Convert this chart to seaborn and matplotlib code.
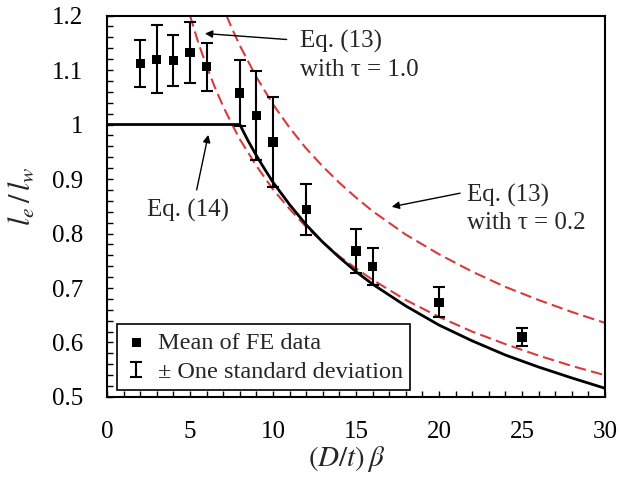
import matplotlib
matplotlib.use("Agg")
import matplotlib.pyplot as plt
import seaborn as sns
from matplotlib.ticker import MultipleLocator, FixedLocator, FixedFormatter
from matplotlib.container import ErrorbarContainer
from matplotlib.legend_handler import HandlerErrorbar

# FE results: mean and one standard deviation of l_e / l_w
fe_x = [2, 3, 4, 5, 6, 8, 9, 10, 12, 15, 16, 20, 25]
fe_mean = [1.112, 1.120, 1.118, 1.132, 1.106, 1.058, 1.017, 0.968,
           0.844, 0.768, 0.739, 0.674, 0.610]
fe_sd = [0.043, 0.062, 0.047, 0.056, 0.044, 0.061, 0.082, 0.083,
         0.047, 0.040, 0.034, 0.028, 0.017]

# Eq. (14)
eq14_x = [0, 8, 8.5, 9, 9.5, 10, 11, 12, 13, 14, 15, 16, 18, 20, 22, 24, 26, 28, 30]
eq14_y = [1.0, 1.0, 0.970, 0.943, 0.918, 0.894, 0.853, 0.816, 0.784, 0.756,
          0.730, 0.707, 0.667, 0.632, 0.603, 0.577, 0.555, 0.535, 0.516]

# Eq. (13), tau = 1.0
eq13_t10_x = [5, 5.5, 6, 6.5, 7, 7.5, 8, 9, 10, 11, 12, 13, 14, 15, 16,
              18, 20, 22, 24, 26, 28, 30]
eq13_t10_y = [1.200, 1.150, 1.107, 1.068, 1.033, 1.002, 0.973, 0.924, 0.881,
              0.845, 0.812, 0.784, 0.758, 0.736, 0.715, 0.678, 0.647, 0.620,
              0.597, 0.576, 0.557, 0.540]

# Eq. (13), tau = 0.2
eq13_t02_x = [7.2, 7.5, 8, 9, 10, 11, 12, 13, 14, 15, 16, 18, 20, 22, 24, 26, 28, 30]
eq13_t02_y = [1.200, 1.178, 1.145, 1.087, 1.037, 0.994, 0.956, 0.923, 0.893,
              0.866, 0.841, 0.798, 0.762, 0.730, 0.702, 0.678, 0.656, 0.636]

yticks = [0.5, 0.6, 0.7, 0.8, 0.9, 1.0, 1.1, 1.2]
ytick_labels = ["0.5", "0.6", "0.7", "0.8", "0.9", "1", "1.1", "1.2"]

sns.set_style("white")
plt.rcParams["font.family"] = ["Liberation Serif", "DejaVu Serif"]
plt.rcParams["mathtext.fontset"] = "stix"

FS = 18
RED = "#d93a3a"

fig = plt.figure(figsize=(6.2, 4.79), dpi=100)
ax = fig.add_axes([0.1726, 0.1712, 0.8032, 0.7964])

sns.lineplot(x=eq13_t02_x, y=eq13_t02_y, ax=ax, color=RED, lw=1.5,
             linestyle=(0, (5.5, 2.5)), sort=False, estimator=None, zorder=2)
sns.lineplot(x=eq13_t10_x, y=eq13_t10_y, ax=ax, color=RED, lw=1.5,
             linestyle=(0, (5.5, 2.5)), sort=False, estimator=None, zorder=2)
sns.lineplot(x=eq14_x, y=eq14_y, ax=ax, color="black", lw=2.0,
             sort=False, estimator=None, zorder=3)

eb = ax.errorbar(fe_x, fe_mean, yerr=fe_sd, fmt="none", ecolor="black",
                 elinewidth=1.5, capsize=4, capthick=1.5, zorder=4,
                 label="\u00b1 One standard deviation")
sc = sns.scatterplot(x=fe_x, y=fe_mean, ax=ax, marker="s", s=44,
                     color="black", edgecolor="none", zorder=5,
                     label="Mean of FE data")

ax.set_xlim(0, 30)
ax.set_ylim(0.5, 1.2)
ax.xaxis.set_major_locator(MultipleLocator(5))
ax.xaxis.set_minor_locator(MultipleLocator(1))
ax.yaxis.set_major_locator(FixedLocator(yticks))
ax.yaxis.set_major_formatter(FixedFormatter(ytick_labels))
ax.yaxis.set_minor_locator(MultipleLocator(0.02))
ax.tick_params(which="both", direction="in", length=4.5, width=1.0,
               top=False, right=False, left=True, bottom=True,
               color="black", labelsize=FS, pad=17, labelcolor="black")
for sp in ax.spines.values():
    sp.set_color("black")
    sp.set_linewidth(1.5)

ax.set_xlabel(r"$(D/t)\,\beta$", fontsize=21)
ax.set_ylabel(r"$l_e\,/\,l_w$", fontsize=22)
ax.xaxis.set_label_coords(0.481, -0.122)
ax.yaxis.set_label_coords(-0.14, 0.525)

arrow = dict(arrowstyle="-|>", color="black", lw=1.0, mutation_scale=11,
             shrinkA=0, shrinkB=0)
ax.annotate("", xy=(5.90, 1.167), xytext=(10.82, 1.156), arrowprops=arrow)
ax.annotate("", xy=(17.15, 0.849), xytext=(21.27, 0.874), arrowprops=arrow)
ax.annotate("", xy=(6.10, 0.981), xytext=(5.40, 0.880), arrowprops=arrow)

ax.text(11.6, 1.126, "Eq. (13)\nwith \u03c4 = 1.0", fontsize=FS,
        ha="left", va="center", linespacing=1.35)
ax.text(21.67, 0.845, "Eq. (13)\nwith \u03c4 = 0.2", fontsize=FS,
        ha="left", va="center", linespacing=1.3)
ax.text(4.85, 0.843, "Eq. (14)", fontsize=FS, ha="center", va="center")

leg = ax.legend(handles=[sc.collections[-1], eb],
                labels=["Mean of FE data", "\u00b1 One standard deviation"],
                loc="lower left", bbox_to_anchor=(0.0195, 0.018),
                borderaxespad=0, fontsize=17.5, frameon=True, fancybox=False,
                framealpha=1, edgecolor="black", handlelength=1.0,
                handletextpad=0.4, labelspacing=0.3, borderpad=0.3,
                handler_map={ErrorbarContainer: HandlerErrorbar(xerr_size=0.3, yerr_size=0.3)})
leg.get_frame().set_linewidth(1.2)

fig.savefig("out.png", dpi=100, facecolor="white")
